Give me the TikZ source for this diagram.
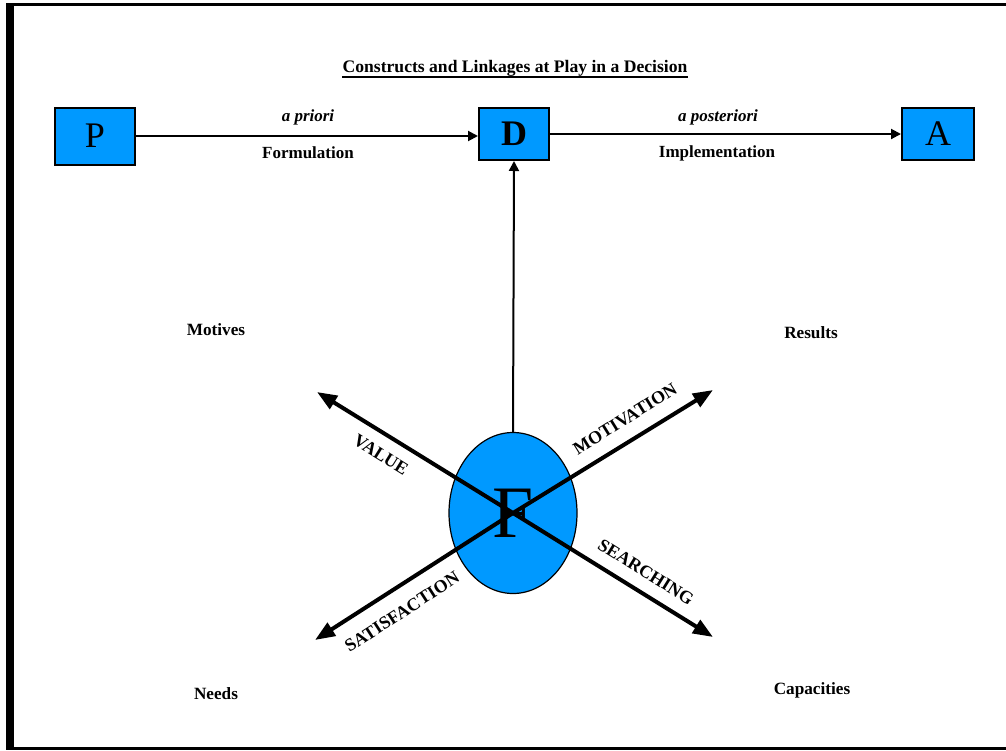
\documentclass[tikz,border=0pt]{standalone}
\usepackage{fontspec}
\setmainfont{Liberation Serif}
\usetikzlibrary{arrows.meta,shapes.geometric}
\definecolor{boxblue}{RGB}{0, 153, 255}

\begin{document}
\begin{tikzpicture}[x=0.5pt, y=-0.5pt,
    letterbox/.style={draw, line width=1pt, fill=boxblue, inner sep=0pt, font=\fontsize{18}{18}\selectfont},
    flowarrow/.style={-{Triangle[length=5pt, width=5pt]}, line width=1pt},
    spoke/.style={-{Triangle[length=10pt, width=7.5pt]}, line width=2pt},
    flowlabel/.style={font=\bfseries\fontsize{8.5}{8.5}\selectfont, inner sep=1pt},
    spokelabel/.style={font=\bfseries\fontsize{9}{9}\selectfont, inner sep=0pt},
    cornerlabel/.style={font=\bfseries\fontsize{8.6}{8.6}\selectfont, inner sep=1pt}]
                    \useasboundingbox (0,0) rectangle (1006,750);
                    % Frame
                    \fill (6,3) rectangle (14,750);
                    \fill (6,3) rectangle (1006,6);
                    \fill (6,747) rectangle (1006,750);

                    % Title
                    \node[inner sep=0pt, font=\bfseries\fontsize{8.8}{8.8}\selectfont] (title) at (515,68) {Constructs and Linkages at Play in a Decision};
                    \draw[line width=1pt] ([yshift=-2.6pt]title.base west) -- ([yshift=-2.6pt]title.base east);

                    % Decision chain
                    \node[letterbox, minimum width=40pt, minimum height=28.5pt] (P) at (95,136) {P};
                    \node[letterbox, minimum width=35pt, minimum height=26pt, font=\bfseries\fontsize{18}{18}\selectfont] (D) at (514,134) {D};
                    \node[letterbox, minimum width=36pt, minimum height=26pt] (A) at (938,134) {A};
                    \draw[flowarrow] (P.east) -- (P.east -| D.west);
                    \draw[flowarrow] (D.east) -- (A.west);
                    \node[flowlabel, font=\bfseries\itshape\fontsize{8.5}{8.5}\selectfont] (priori) at (308,117) {a priori};
                    \node[flowlabel] (formulation) at (308,153) {Formulation};
                    \node[flowlabel, font=\bfseries\itshape\fontsize{8.5}{8.5}\selectfont] (posteriori) at (718,117) {a posteriori};
                    \node[flowlabel] (implementation) at (717,153) {Implementation};

                    % Factor ellipse
                    \node[ellipse, draw, line width=0.6pt, fill=boxblue, minimum width=64pt, minimum height=80.5pt, inner sep=0pt, font=\fontsize{37}{37}\selectfont] (F) at (513,513) {F};
                    \draw[flowarrow] (F.north) -- (D.south);

                    % Spokes
                    \coordinate (valueTip) at (317,392);
                    \coordinate (motivationTip) at (713,390);
                    \coordinate (satisfactionTip) at (315,640);
                    \coordinate (searchingTip) at (713,637);
                    \draw[spoke] (F.center) -- (valueTip);
                    \draw[spoke] (F.center) -- (motivationTip);
                    \draw[spoke] (F.center) -- (satisfactionTip);
                    \draw[spoke] (F.center) -- (searchingTip);
                    \node[spokelabel, rotate=-32] (value) at (381,455) {VALUE};
                    \node[spokelabel, rotate=32] (motivation) at (625,419) {MOTIVATION};
                    \node[spokelabel, rotate=33] (satisfaction) at (402,612) {SATISFACTION};
                    \node[spokelabel, rotate=-32] (searching) at (646,572) {SEARCHING};

                    % Constructs
                    \node[cornerlabel] (motives) at (216,330) {Motives};
                    \node[cornerlabel] (results) at (811,333) {Results};
                    \node[cornerlabel] (needs) at (216,694) {Needs};
                    \node[cornerlabel] (capacities) at (812,690) {Capacities};
                \end{tikzpicture}
\end{document}
